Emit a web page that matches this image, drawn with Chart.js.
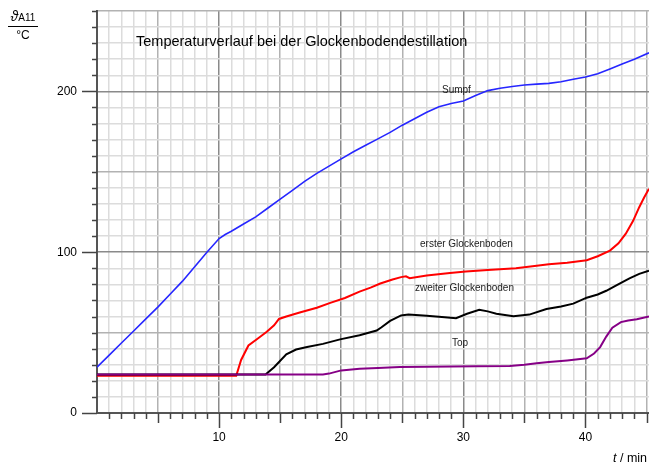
<!DOCTYPE html>
<html>
<head>
<meta charset="utf-8">
<script src="https://cdn.jsdelivr.net/npm/chart.js@4"></script>
<style>
  body { margin: 0; background: #fff; overflow: hidden; }
  #wrap { position: relative; width: 649px; height: 463px; font-family: "Liberation Sans", Arial, sans-serif; color: #000; }
  #wrap canvas { position: absolute; left: 0; top: 0; }
  .lbl { position: absolute; white-space: nowrap; line-height: 1; }
  .curve { font-size: 10px; color: #222; }
</style>
</head>
<body>
<div id="wrap">
  <canvas id="model01" width="649" height="463"></canvas>
  <div class="lbl" style="left:136px; top:34px; font-size:14.5px;">Temperaturverlauf bei der Glockenbodendestillation</div>
  <div class="lbl curve" style="left:442px; top:85px;">Sumpf</div>
  <div class="lbl curve" style="left:420px; top:239px;">erster Glockenboden</div>
  <div class="lbl curve" style="left:415px; top:283px;">zweiter Glockenboden</div>
  <div class="lbl curve" style="left:452px; top:338px;">Top</div>
  <div class="lbl" style="left:8px; top:8px; width:30px; text-align:center;">
    <div style="border-bottom:1px solid #000; padding-bottom:2px;"><i style="font-size:14px;">&#977;</i><span style="font-size:10px;">A11</span></div>
    <div style="font-size:12px; padding-top:2px;">°C</div>
  </div>
  <div class="lbl" style="left:613px; top:452px; font-size:12.5px;"><i>t</i> / min</div>
</div>
<script>
const ctx1 = document.getElementById('model01');

// Sumpf
const sumpfT = [0, 1, 2, 3, 4, 5, 6, 7, 8, 9, 10, 10.5, 11, 12, 13, 14, 15, 16, 17, 18, 19, 20, 21, 22, 23, 24, 25, 26, 27, 28, 29, 30, 31, 32, 33, 34, 35, 36, 37, 38, 39, 40, 41, 42, 43, 44, 45.2]
const sumpfTemp = [28.5, 36, 43.5, 51, 58.5, 66, 74, 82, 91, 100, 108.5, 111, 113, 117.5, 122, 127.5, 133, 138.5, 144, 149, 153.5, 158, 162.5, 166.5, 170.5, 174.5, 179, 183, 187, 190.5, 192.5, 194, 197.5, 200.5, 202, 203, 204, 204.5, 205, 206, 207.5, 209, 211, 214, 217, 220, 224]

// erster Glockenboden
const ersterT = [0, 11.4, 11.8, 12.4, 13.2, 13.9, 14.5, 14.9, 15.5, 16.6, 18, 19.1, 20.3, 21.5, 22.4, 23.2, 24.2, 24.9, 25.3, 25.6, 27, 28.9, 30.2, 32, 34.3, 36, 37, 38.5, 40.1, 41, 42, 42.7, 43.3, 43.9, 44.4, 44.8, 45.2]
const ersterTemp = [23.2, 23.2, 33, 42, 46.5, 50.5, 54.5, 58.5, 60, 62.5, 65.5, 68.5, 71.5, 75.5, 78, 80.5, 83, 84.5, 85, 83.8, 85.5, 87, 88, 89, 90, 91.5, 92.5, 93.5, 95, 97.5, 101, 105.5, 111.5, 119.5, 128, 134, 139.5]

// zweiter Glockenboden
const zweiterT = [0, 13.8, 14.5, 15.5, 16.3, 17.2, 18.5, 19.9, 21.5, 22.9, 23.3, 24, 24.9, 25.5, 27, 28, 29.4, 30.3, 31.3, 32, 32.7, 34.1, 35.4, 36.8, 38, 39, 40.1, 41, 41.7, 42.6, 43.6, 44.4, 45.2]
const zweiterTemp = [24, 24, 28.5, 36.5, 39.5, 41, 43, 45.8, 48.3, 51.3, 53.3, 57.3, 60.7, 61.2, 60.5, 59.8, 59, 61.7, 64.2, 63.2, 61.7, 60.2, 61.2, 64.7, 66.2, 68, 71.7, 73.7, 76, 79.7, 83.7, 86.5, 88.5]

// Top
const topT = [0, 18.5, 19, 20, 21.5, 23, 24.8, 27, 29, 31, 33.8, 35, 36, 37, 38.5, 40.1, 40.7, 41.2, 41.7, 42.2, 42.9, 43.5, 44.2, 45.2]
const topTemp = [24, 24, 24.5, 26.5, 27.5, 28, 28.6, 28.8, 28.9, 29, 29.2, 30, 31, 31.7, 32.7, 34, 37, 41, 47.5, 53, 56.5, 57.5, 58.3, 60]

const xTicks = Array.from({length: 46}, (_, i) => i)
const yTicks = Array.from({length: 26}, (_, i) => i * 10)

function pts(t, v) {
  return t.map((x, i) => ({x: x, y: v[i]}))
}

// tick marks of different lengths, drawn through the scales
const tickMarks = {
  id: 'tickMarks',
  afterDraw(chart) {
    const c = chart.ctx
    const xs = chart.scales.x
    const ys = chart.scales.y
    const bottom = chart.chartArea.bottom
    const left = chart.chartArea.left
    c.save()
    c.strokeStyle = '#444'
    c.lineWidth = 1.5
    c.beginPath()
    xTicks.forEach(v => {
      if (v === 0) return
      const px = Math.round(xs.getPixelForValue(v)) + 0.5
      const len = v % 10 === 0 ? 15 : (v % 5 === 0 ? 10 : 6)
      c.moveTo(px, bottom)
      c.lineTo(px, bottom + len)
    })
    yTicks.forEach(v => {
      const py = Math.round(ys.getPixelForValue(v)) + 0.5
      const len = v % 100 === 0 ? 15 : 5
      c.moveTo(left, py)
      c.lineTo(left - len, py)
    })
    c.stroke()
    c.restore()
  }
}

function gridColor(ctx, big, mid) {
  const v = ctx.tick.value
  if (v % big === 0) return '#8a8a8a'
  if (v % mid === 0) return '#b2b2b2'
  return '#dcdcdc'
}

function noPad(s) {
  s.paddingTop = 0
  s.paddingBottom = 0
  s.paddingLeft = 0
  s.paddingRight = 0
}

const data = {
  datasets: [
    {
      label: 'Top',
      data: pts(topT, topTemp),
      borderColor: '#860086',
      borderWidth: 2
    },
    {
      label: 'zweiter Glockenboden',
      data: pts(zweiterT, zweiterTemp),
      borderColor: '#000000',
      borderWidth: 2
    },
    {
      label: 'erster Glockenboden',
      data: pts(ersterT, ersterTemp),
      borderColor: '#ff0000',
      borderWidth: 2
    },
    {
      label: 'Sumpf',
      data: pts(sumpfT, sumpfTemp),
      borderColor: '#2626ff',
      borderWidth: 1.6
    },
  ]
}

const maps = new Chart(ctx1, {
  type: 'line',
  data: data,
  plugins: [tickMarks],
  options: {
    responsive: false,
    animation: false,
    devicePixelRatio: 1,
    layout: {
      padding: {top: 11, right: 0, left: 0, bottom: 0}
    },
    elements: {
      point: { radius: 0 },
      line: { tension: 0 }
    },
    plugins: {
      legend: { display: false },
      tooltip: { enabled: false }
    },
    scales: {
      x: {
        type: 'linear',
        min: 0,
        max: 45.2,
        afterBuildTicks: s => { s.ticks = xTicks.map(v => ({value: v})) },
        afterFit: s => { s.height = 50; noPad(s) },
        ticks: {
          autoSkip: false,
          maxRotation: 0,
          padding: 17,
          color: '#000',
          font: { family: '"Liberation Sans", Arial, sans-serif', size: 12 },
          callback: v => (v % 10 === 0 && v > 0) ? String(v) : ''
        },
        grid: {
          drawTicks: false,
          lineWidth: 1.5,
          color: ctx => gridColor(ctx, 10, 5)
        },
        border: { color: '#555', width: 2 }
      },
      y: {
        min: 0,
        max: 250,
        afterBuildTicks: s => { s.ticks = yTicks.map(v => ({value: v})) },
        afterFit: s => { s.width = 97; noPad(s) },
        ticks: {
          autoSkip: false,
          padding: 20,
          color: '#000',
          font: { family: '"Liberation Sans", Arial, sans-serif', size: 12 },
          callback: v => v % 100 === 0 ? String(v) : ''
        },
        grid: {
          drawTicks: false,
          lineWidth: 1.5,
          color: ctx => gridColor(ctx, 100, 50)
        },
        border: { color: '#555', width: 2 }
      }
    }
  }
})
</script>
</body>
</html>
